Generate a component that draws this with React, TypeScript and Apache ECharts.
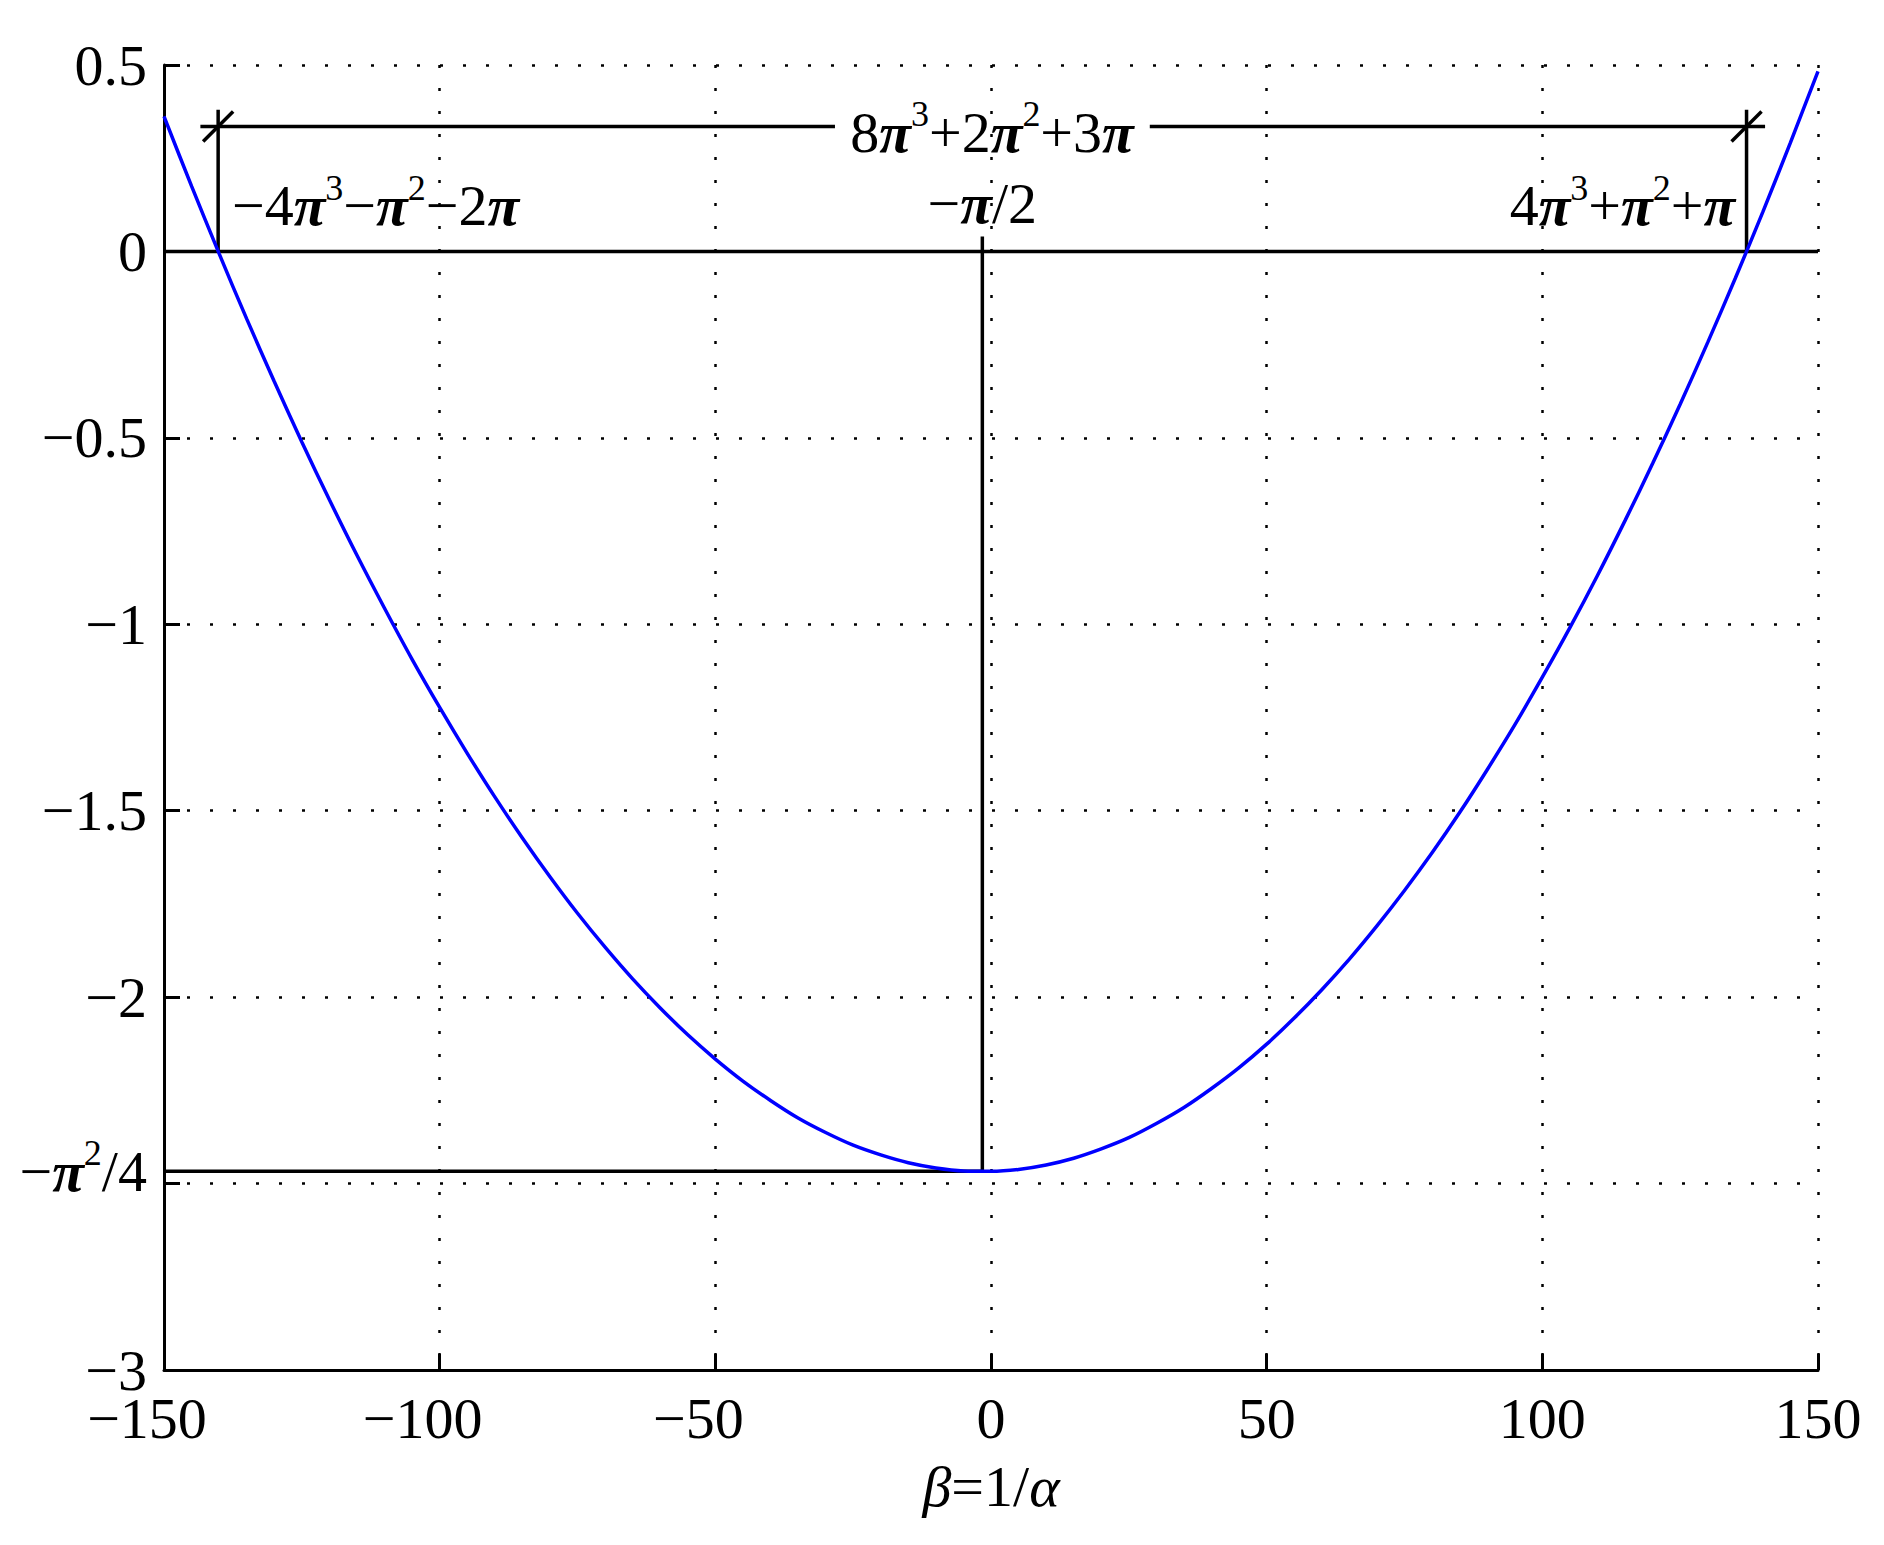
import React, { useEffect, useRef } from 'react';
import * as echarts from 'echarts';

// ---- data ----
const curveX = [-150, -145, -140, -135, -130, -125, -120, -115, -110, -105, -100, -95, -90, -85, -80, -75, -70, -65, -60, -55, -50, -45, -40, -35, -30, -25, -20, -15, -10, -5, 0, 5, 10, 15, 20, 25, 30, 35, 40, 45, 50, 55, 60, 65, 70, 75, 80, 85, 90, 95, 100, 105, 110, 115, 120, 125, 130, 135, 140, 145, 150];
const curveY = [0.362, 0.175, -0.006, -0.181, -0.349, -0.511, -0.666, -0.815, -0.957, -1.094, -1.223, -1.346, -1.463, -1.573, -1.677, -1.775, -1.866, -1.951, -2.029, -2.101, -2.166, -2.225, -2.277, -2.324, -2.363, -2.397, -2.423, -2.444, -2.458, -2.466, -2.467, -2.462, -2.45, -2.432, -2.407, -2.377, -2.339, -2.296, -2.245, -2.189, -2.126, -2.056, -1.98, -1.898, -1.809, -1.714, -1.613, -1.505, -1.39, -1.27, -1.142, -1.009, -0.869, -0.722, -0.569, -0.41, -0.244, -0.072, 0.106, 0.292, 0.483];

const xMin = -150, xMax = 150, xStep = 50;
const yMin = -3, yMax = 0.5, yStep = 0.5;
const hiddenYTick = -2.5;

// black annotation segments (data coordinates)
const zeroLine = [[-150, 0], [150, 0]];
const vertexVertical = [[-1.571, 0.04], [-1.571, -2.467]];
const vertexHorizontal = [[-150, -2.467], [-1.571, -2.467]];
const dimLeft = [[-143.4, 0.335], [-28.3, 0.335]];
const dimRight = [[28.8, 0.335], [140.4, 0.335]];
const leftRootLine = [[-140.18, 0], [-140.18, 0.38]];
const rightRootLine = [[137.04, 0], [137.04, 0.38]];
const leftSlash = [[-142.9, 0.295], [-137.46, 0.375]];
const rightSlash = [[134.32, 0.295], [139.76, 0.375]];

// annotation texts: [richText, x, y, align]
const dimText = ['{r|8}{i|π}{s|3}{r|+2}{i|π}{s|2}{r|+3}{i|π}', 0.19, 0.32, 'center'];
const leftRootText = ['{r|−4}{i|π}{s|3}{r|−}{i|π}{s|2}{r|−2}{i|π}', -137.67, 0.123, 'left'];
const rightRootText = ['{r|4}{i|π}{s|3}{r|+}{i|π}{s|2}{r|+}{i|π}', 134.96, 0.123, 'right'];
const vertexText = ['{r|−}{i|π}{r|/2}', -1.571, 0.129, 'center'];
const minValueText = ['{r|−}{i|π}{s|2}{r|/4}', -153.1, -2.467, 'right'];
const annotations = [dimText, leftRootText, rightRootText, vertexText, minValueText];

const xName = '{i|β}{r|=1/}{i|α}';

const FONT = "'Liberation Serif', 'Times New Roman', serif";
const FS = 58;

const rich = {
  r: { fontSize: FS, fontFamily: FONT, color: '#000', lineHeight: 64 },
  i: { fontSize: FS, fontFamily: FONT, color: '#000', lineHeight: 64, fontStyle: 'italic', fontWeight: 'bold' },
  s: { fontSize: 36, fontFamily: FONT, color: '#000', lineHeight: 4, padding: [0, 0, 36, 0] },
};
const nameRich = {
  r: { fontSize: FS, fontFamily: FONT, color: '#000', lineHeight: 64 },
  i: { fontSize: FS, fontFamily: FONT, color: '#000', lineHeight: 64, fontStyle: 'italic' },
};

const fmtNum = (v: number) => (v < 0 ? '−' + String(Math.abs(v)) : String(v));

export default function App() {
  const ref = useRef<HTMLDivElement>(null);
  useEffect(() => {
    if (!ref.current) return;
    const chart = echarts.init(ref.current, undefined, { renderer: 'svg' });
    const seg = (d: number[][]) => ({
      type: 'line',
      data: d,
      showSymbol: false,
      symbol: 'none',
      silent: true,
      lineStyle: { color: '#000', width: 3.5 },
      z: 3,
    });
    const option: any = {
      animation: false,
      backgroundColor: '#fff',
      grid: { left: 164, right: 66, top: 65, bottom: 175 },
      xAxis: {
        type: 'value',
        min: xMin,
        max: xMax,
        interval: xStep,
        name: xName,
        nameLocation: 'middle',
        nameGap: 84,
        nameTextStyle: { rich: nameRich },
        axisLine: { show: true, onZero: false, lineStyle: { color: '#000', width: 3 } },
        axisTick: { show: true, inside: true, length: 16, lineStyle: { color: '#000', width: 3 } },
        axisLabel: {
          margin: 19,
          formatter: (v: number) => (v < 0 ? '{n|' + fmtNum(v) + '}' : '{p|' + fmtNum(v) + '}'),
          rich: {
            n: { fontSize: FS, fontFamily: FONT, color: '#000', padding: [0, 34, 0, 0] },
            p: { fontSize: FS, fontFamily: FONT, color: '#000' },
          },
        },
        splitLine: { show: true, lineStyle: { color: '#000', width: 2.5, type: [3, 20] } },
      },
      yAxis: {
        type: 'value',
        min: yMin,
        max: yMax,
        interval: yStep,
        axisLine: { show: true, onZero: false, lineStyle: { color: '#000', width: 3 } },
        axisTick: { show: true, inside: true, length: 16, lineStyle: { color: '#000', width: 3 } },
        axisLabel: {
          margin: 17,
          fontSize: FS,
          fontFamily: FONT,
          color: '#000',
          formatter: (v: number) => (Math.abs(v - hiddenYTick) < 1e-9 ? '' : fmtNum(v)),
        },
        splitLine: { show: true, lineStyle: { color: '#000', width: 2.5, type: [3, 20] } },
      },
      series: [
        seg(zeroLine),
        seg(vertexVertical),
        seg(vertexHorizontal),
        seg(dimLeft),
        seg(dimRight),
        seg(leftRootLine),
        seg(rightRootLine),
        seg(leftSlash),
        seg(rightSlash),
        {
          type: 'line',
          data: curveX.map((x, k) => [x, curveY[k]]),
          smooth: 0.3,
          showSymbol: false,
          symbol: 'none',
          lineStyle: { color: '#0000ff', width: 3.5 },
          z: 4,
        },
      ],
    };
    chart.setOption(option);
    const graphic = annotations.map((a: any) => {
      const p = chart.convertToPixel({ gridIndex: 0 }, [a[1], a[2]]) as number[];
      return {
        type: 'text',
        x: p[0],
        y: p[1],
        z: 10,
        style: { text: a[0], rich, align: a[3], verticalAlign: 'middle' },
      };
    });
    chart.setOption({ graphic });
    return () => chart.dispose();
  }, []);
  return <div ref={ref} style={{ position: 'fixed', left: 0, top: 0, width: 1884, height: 1545 }} />;
}
